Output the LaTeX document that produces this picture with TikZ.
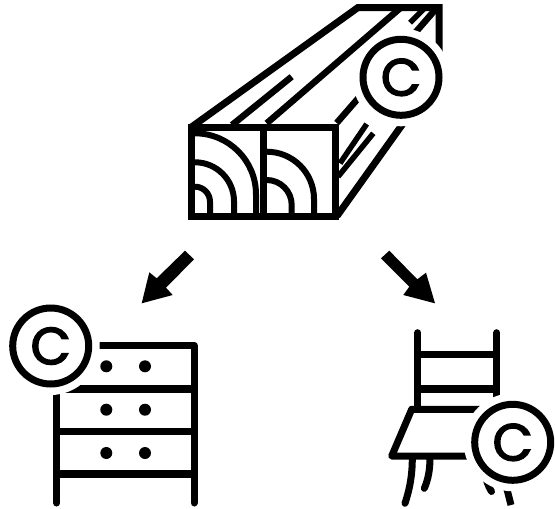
\documentclass[tikz,border=0pt]{standalone}
\usepackage{fontspec}
\newfontfamily\cfont{Poppins}[FakeBold=3]
\tikzset{
  ink/.style={line width=7pt,line cap=butt,line join=miter,black},
  bar/.style={line width=7.6pt,line cap=butt,line join=miter,black},
  grain/.style={line width=5.5pt,line cap=butt,black},
  rnd/.style={line width=7pt,line cap=round,line join=round,black},
  ringline/.style={line width=6pt,line cap=butt,line join=miter,black},
  dot/.style={fill=black,draw=none},
  arrowshape/.style={fill=black,draw=none},
  halo/.style={fill=white,draw=none},
  badgering/.style={draw=black,line width=7pt,fill=white},
  letter/.style={inner sep=0pt,font=\cfont\fontsize{52pt}{52pt}\selectfont}
}
\newcommand{\badge}[3]{%
  \fill[halo] (#1,#2) circle (49);
  \draw[badgering] (#1,#2) circle (38);
  \node[letter] (#3) at (#1,#2) {C};
}
\begin{document}
\begin{tikzpicture}[x=1pt,y=-1pt]
\useasboundingbox[fill=white] (0,0) rectangle (555,509);
% beam
\draw[ink] (191.5,127) -- (358,7.5) -- (439,7.5) -- (439,60);
\draw[grain,line width=6.5pt] (336.7,123) -- (436.7,8);
\draw[grain,line width=6.5pt] (266.7,123.3) -- (400,8.3);
\draw[grain,line width=6.5pt] (232,125) -- (291.7,76.7);
\draw[grain] (410,22.7) -- (426.7,6);
\draw[grain] (340,163.3) -- (366.7,124);
\draw[grain] (338,176.7) -- (373.3,133.3);
\draw[ink] (337,216) -- (412,111);
\draw[ink] (191.5,127) rectangle (335,216);
\draw[ink] (263,127) -- (263,216);
% rings
\draw[ringline] (195,133.3) arc[start angle=-90,end angle=0,radius=61] -- (256,213);
\draw[ringline] (195,162.3) arc[start angle=-90,end angle=0,radius=39] -- (234,213);
\draw[ringline] (195,186.7) arc[start angle=-90,end angle=0,radius=15] -- (210,213);
\draw[ringline] (266.7,151.7) arc[start angle=-90,end angle=0,radius=47.3] -- (314,213);
\draw[ringline] (266.7,180) arc[start angle=-90,end angle=0,radius=25] -- (291.7,213);
\badge{401}{77.3}{cbeam}
% arrows
\fill[arrowshape] (185,250.7) -- (194,259.3) -- (166,287.7) -- (172.7,295) -- (141.7,303.3) -- (149.3,272.3) -- (156.7,278.3) -- cycle;
\fill[arrowshape] (381,258.3) -- (389.3,250.7) -- (417.3,279.3) -- (426,272.7) -- (435,303.3) -- (403.3,295) -- (409.3,286.7) -- cycle;
% shelf
\draw[rnd] (56.7,380) -- (56.7,503);
\draw[rnd] (194,345.5) -- (194,503);
\draw[bar] (90,345.5) -- (194,345.5);
\draw[bar] (56.7,389) -- (194,389);
\draw[bar] (56.7,431.3) -- (194,431.3);
\draw[bar] (56.7,473.7) -- (194,473.7);
\foreach \px in {106.3,145}\foreach \py in {366.3,409.7,453}
  \fill[dot] (\px,\py) circle (6);
\badge{50.7}{346}{cshelf}
% chair
\draw[rnd] (417.7,332.7) -- (417.7,409);
\draw[rnd] (496.7,332.7) -- (496.7,420);
\draw[bar] (417.7,354.3) -- (496.7,354.3);
\draw[bar] (417.7,389) -- (496.7,389);
\draw[rnd] (500,409.3) -- (411.7,409.3) -- (391.7,456) -- (500,456);
\draw[rnd] (412.3,458) .. controls (412.3,475) and (410,488) .. (405,503.3);
\draw[rnd] (430,458) .. controls (430,470) and (428,480) .. (424.3,488.3);
\draw[rnd] (484,470) .. controls (486,480) and (488,486) .. (491.5,491.5);
\draw[ink] (500,462) -- (511,505);
\badge{512.7}{442.3}{cchair}
\end{tikzpicture}
\end{document}
